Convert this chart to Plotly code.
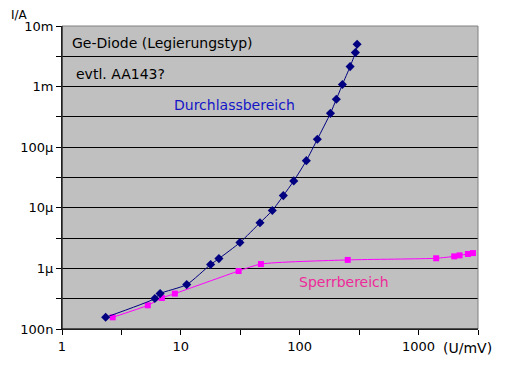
import numpy as np
import plotly.graph_objects as go

# Durchlassbereich (forward)
u_fwd = [2.33, 6.04, 6.69, 11.2, 17.8, 20.9, 31.4, 46.3, 58.8, 72.8, 89.1,
         113.7, 140.7, 181.3, 203.3, 228.6, 265.4, 294, 304]
i_fwd = [1.56e-7, 3.18e-7, 3.84e-7, 5.4e-7, 1.16e-6, 1.45e-6, 2.67e-6, 5.66e-6,
         9.0e-6, 1.59e-5, 2.78e-5, 6.0e-5, 1.35e-4, 3.62e-4, 6.17e-4, 1.08e-3,
         2.14e-3, 3.64e-3, 4.99e-3]

# Sperrbereich (reverse)
u_rev = [2.67, 5.27, 6.92, 8.9, 30.6, 47.2, 253.6, 1406, 1994, 2213, 2602, 2867]
i_rev = [1.56e-7, 2.46e-7, 3.25e-7, 3.84e-7, 9.06e-7, 1.18e-6, 1.38e-6, 1.47e-6,
         1.58e-6, 1.64e-6, 1.73e-6, 1.79e-6]

x_tickvals = [1, 10**0.5, 10, 10**1.5, 100, 10**2.5, 1000, 10**3.5]
x_ticktext = ["1", "", "10", "", "100", "", "1000", ""]
y_tickvals = [1e-7, 10**-6.5, 1e-6, 10**-5.5, 1e-5, 10**-4.5, 1e-4, 10**-3.5, 1e-3, 10**-2.5, 1e-2]
y_ticktext = ["100n", "", "1µ", "", "10µ", "", "100µ", "", "1m", "", "10m"]

FONT = "DejaVu Sans, Arial, sans-serif"

fig = go.Figure()
fig.add_trace(go.Scatter(
    x=u_rev, y=i_rev, mode="lines+markers",
    line=dict(color="#FF00FF", width=1, shape="spline", smoothing=0.6),
    marker=dict(symbol="square", size=6, color="#FF00FF"),
    showlegend=False))
fig.add_trace(go.Scatter(
    x=u_fwd, y=i_fwd, mode="lines+markers",
    line=dict(color="#000080", width=1, shape="spline", smoothing=0.6),
    marker=dict(symbol="diamond", size=7, color="#000080"),
    showlegend=False))

fig.update_layout(
    width=501, height=366,
    margin=dict(l=54, r=31, t=18, b=45),
    paper_bgcolor="white", plot_bgcolor="#C0C0C0",
    font=dict(family=FONT, size=13, color="black"),
    xaxis=dict(type="log", range=[0, 3.5], tickvals=x_tickvals, ticktext=x_ticktext,
               showgrid=False, zeroline=False, showline=True, linecolor="black", linewidth=1,
               ticks="outside", ticklen=5, tickcolor="black", tickfont=dict(size=13)),
    yaxis=dict(type="log", range=[-7, -2], tickvals=y_tickvals, ticktext=y_ticktext,
               showgrid=True, gridcolor="black", gridwidth=1, zeroline=False,
               showline=True, linecolor="black", linewidth=1,
               ticks="outside", ticklen=5, tickcolor="black", tickfont=dict(size=13)),
    shapes=[dict(type="rect", xref="paper", yref="paper", x0=0, x1=1, y0=0, y1=1,
                 line=dict(color="#808080", width=1), layer="above")],
    annotations=[
        dict(text="Ge-Diode (Legierungstyp)", x=0.02, y=0.944, xref="paper", yref="paper",
             xanchor="left", yanchor="middle", showarrow=False, font=dict(size=14, color="black")),
        dict(text="evtl. AA143?", x=0.03, y=0.841, xref="paper", yref="paper",
             xanchor="left", yanchor="middle", showarrow=False, font=dict(size=14, color="black")),
        dict(text="Durchlassbereich", x=0.265, y=0.740, xref="paper", yref="paper",
             xanchor="left", yanchor="middle", showarrow=False, font=dict(size=14, color="#1515C8")),
        dict(text="Sperrbereich", x=0.566, y=0.155, xref="paper", yref="paper",
             xanchor="left", yanchor="middle", showarrow=False, font=dict(size=14, color="#EE2A9A")),
        dict(text="(U/mV)", x=0.912, y=-0.0616, xref="paper", yref="paper",
             xanchor="left", yanchor="middle", showarrow=False, font=dict(size=14, color="black")),
        dict(text="I/A", x=-0.125, y=1.0616, xref="paper", yref="paper", borderpad=0,
             xanchor="left", yanchor="top", showarrow=False, font=dict(size=12, color="black")),
    ],
)
fig.add_shape(type="line", xref="paper", yref="paper", x0=0, x1=0, y0=0, y1=1,
              line=dict(color="black", width=1), layer="above")
fig.add_shape(type="line", xref="paper", yref="paper", x0=0, x1=1, y0=0, y1=0,
              line=dict(color="black", width=1), layer="above")

fig.write_html("out.html")
